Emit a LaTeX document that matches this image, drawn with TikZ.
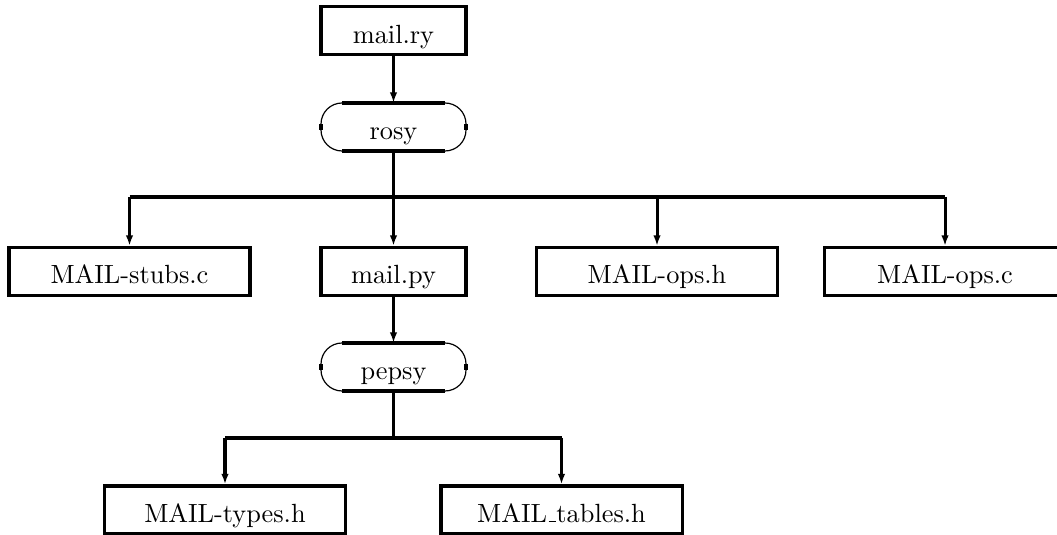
\documentclass[tikz,border=0pt]{standalone}
\usepackage{fontspec}
\usetikzlibrary{arrows.meta}
% short low rule used as the underscore in file names
\newcommand{\lowbar}{\leavevmode\kern.06em\vbox{\hrule width.3em}}
\begin{document}
\begin{tikzpicture}[x=0.38pt,y=0.38pt,
  label text/.style={inner sep=0pt, text height=9.5pt, text depth=0pt, font=\normalsize},
  filebox/.style={label text, draw, line width=1.15pt, minimum height=48*0.38pt},
  narrow/.style={filebox, minimum width=145*0.38pt},
  wide/.style={filebox, minimum width=241*0.38pt},
  tool/.style={label text, outer sep=0pt, minimum width=145*0.38pt, minimum height=48*0.38pt},
  link/.style={line width=1.15pt},
  feed/.style={link, -{Latex[length=4pt,width=2.8pt]}},
  pilledge/.style={line width=1.15pt},
  pillarc/.style={line width=0.45pt}
]
\useasboundingbox (0,0) rectangle (1057,535);

% source and generated files
\node[narrow] (ry)     at (393.5,504)   {mail.ry};
\node[wide]   (stubs)  at (129.5,263.5) {MAIL-stubs.c};
\node[narrow] (py)     at (393.5,263.5) {mail.py};
\node[wide]   (opsh)   at (657,263.5)   {MAIL-ops.h};
\node[wide]   (opsc)   at (945,263.5)   {MAIL-ops.c};
\node[wide]   (types)  at (225,25)      {MAIL-types.h};
\node[wide]   (tables) at (561.5,25)    {MAIL\lowbar tables.h};

% compiler stages
\node[tool] (rosy)  at (393.5,408) {rosy};
\node[tool] (pepsy) at (393.5,168) {pepsy};

% pill outlines: heavy straight edges, light rounded ends
\foreach \p in {rosy,pepsy}{
  \draw[pilledge] ([xshift=8pt]\p.north west) -- ([xshift=-8pt]\p.north east);
  \draw[pilledge] ([xshift=8pt]\p.south west) -- ([xshift=-8pt]\p.south east);
  \draw[pillarc] ([xshift=8pt]\p.north west) arc[start angle=90,end angle=180,radius=8pt];
  \draw[pillarc] ([xshift=8pt]\p.south west) arc[start angle=270,end angle=180,radius=8pt];
  \draw[pillarc] ([xshift=-8pt]\p.north east) arc[start angle=90,end angle=0,radius=8pt];
  \draw[pillarc] ([xshift=-8pt]\p.south east) arc[start angle=-90,end angle=0,radius=8pt];
  \draw[pilledge] ([yshift=-8pt]\p.north west) -- ([yshift=8pt]\p.south west);
  \draw[pilledge] ([yshift=-8pt]\p.north east) -- ([yshift=8pt]\p.south east);
}

% junction points of the distribution lines
\coordinate (busA) at (393.5,338);
\coordinate (busB) at (393.5,97);

\draw[feed] (ry) -- (rosy);
\draw[link] (rosy.south) -- (busA);
\draw[link] (stubs.north |- busA) -- (opsc.north |- busA);
\foreach \f in {stubs,py,opsh,opsc}
  \draw[feed] (\f.north |- busA) -- (\f.north);

\draw[feed] (py) -- (pepsy);
\draw[link] (pepsy.south) -- (busB);
\draw[link] (types.north |- busB) -- (tables.north |- busB);
\foreach \f in {types,tables}
  \draw[feed] (\f.north |- busB) -- (\f.north);
\end{tikzpicture}
\end{document}
